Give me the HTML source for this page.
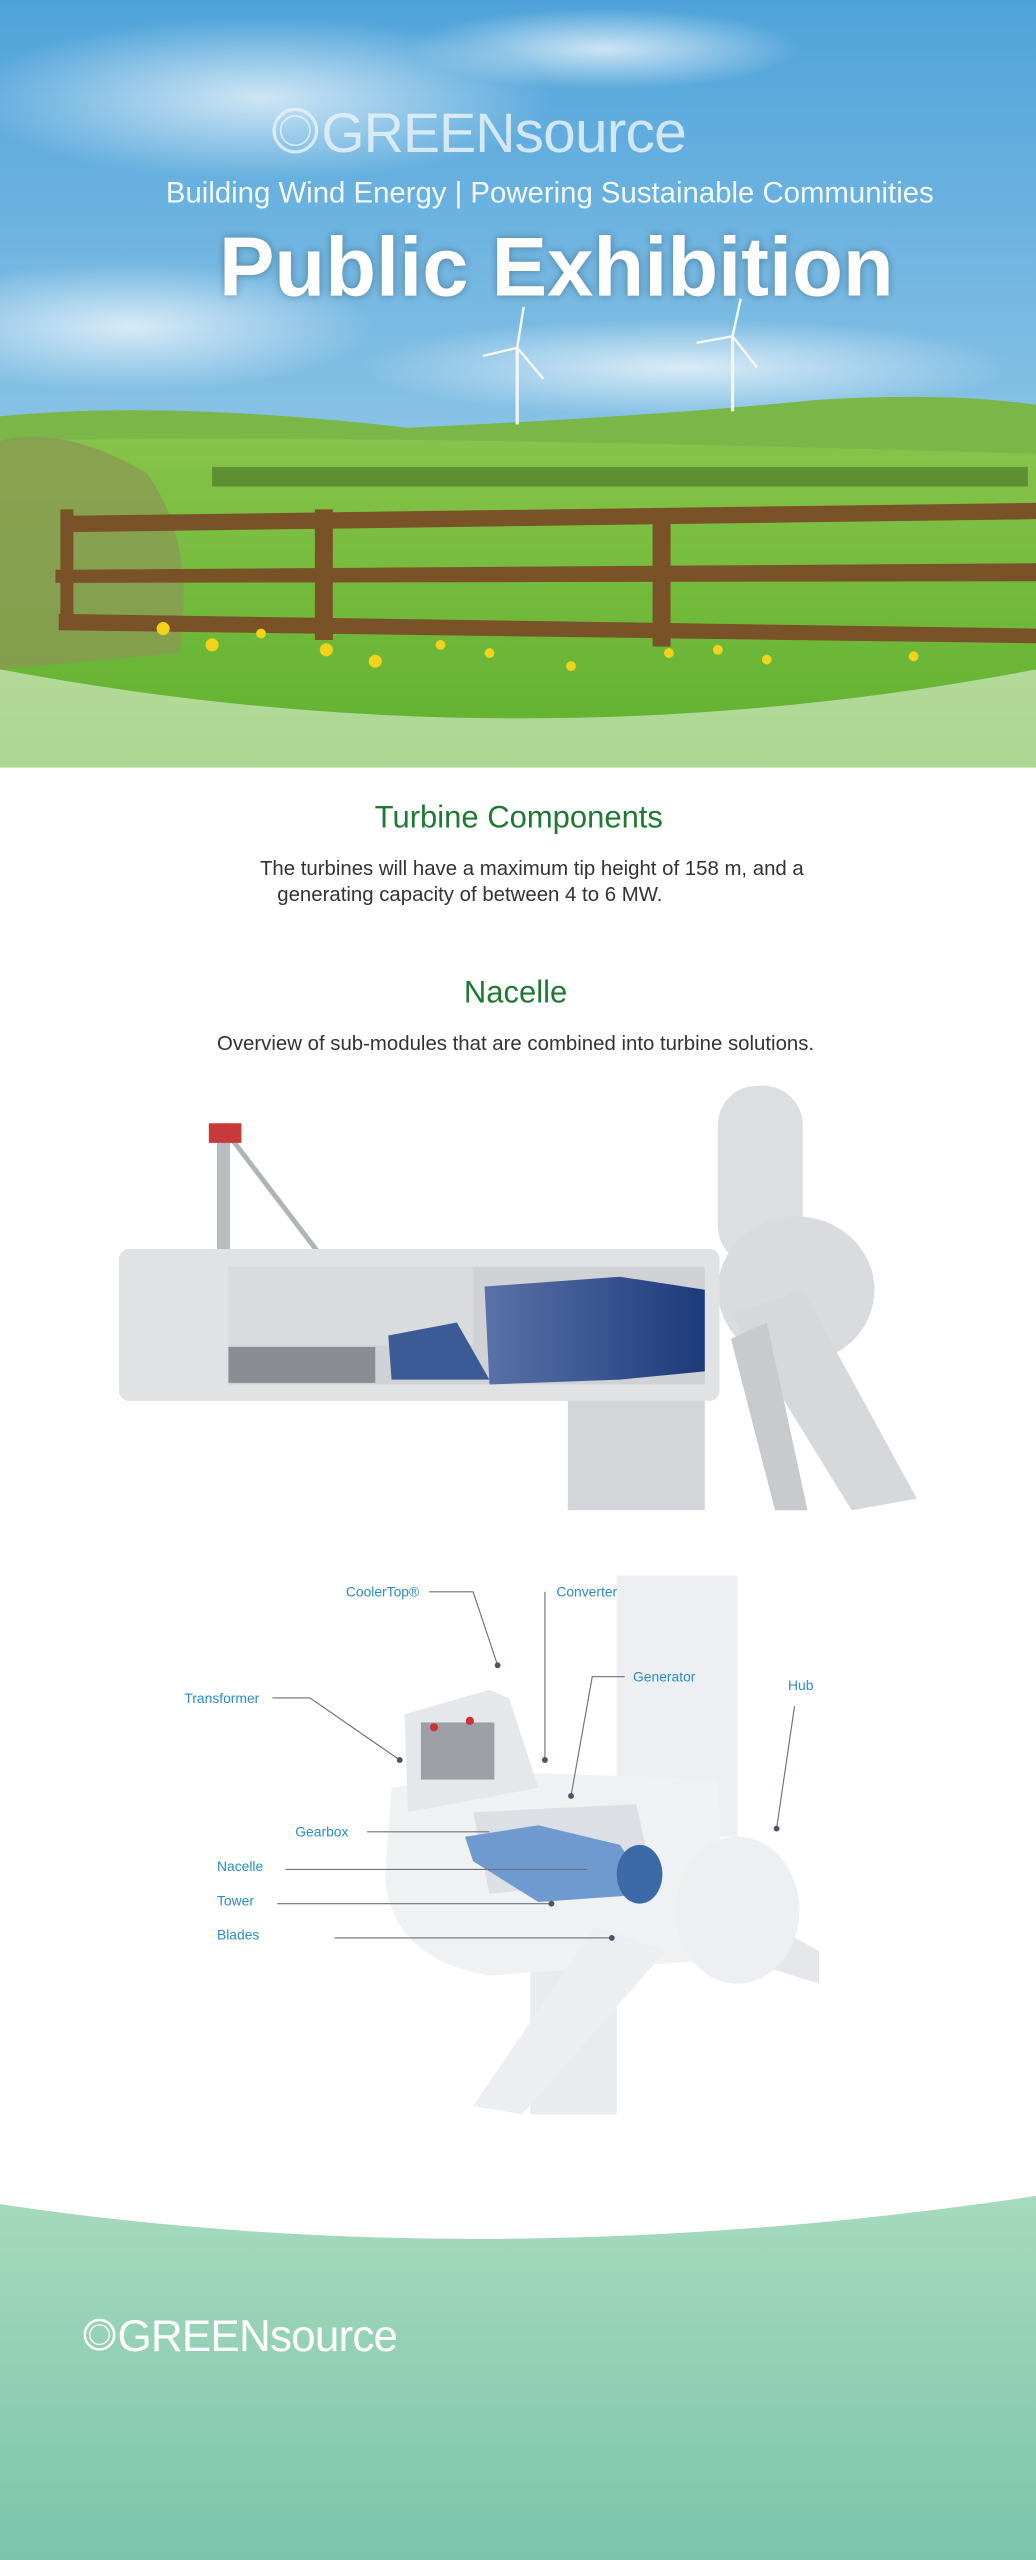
<!DOCTYPE html>
<html><head><meta charset="utf-8"><style>
html,body{margin:0;padding:0;background:#fff;}
svg{display:block;}
text{font-family:"Liberation Sans",sans-serif;}
</style></head><body>
<svg width="1036" height="2560" viewBox="0 0 635 1568" preserveAspectRatio="none" xmlns="http://www.w3.org/2000/svg">
<defs>
<linearGradient id="sky" x1="0" y1="0" x2="0" y2="1"><stop offset="0" stop-color="#4fa3da"/><stop offset="0.6" stop-color="#8cc4e6"/><stop offset="1" stop-color="#c9e2f0"/></linearGradient>
<linearGradient id="field" x1="0" y1="0" x2="0" y2="1"><stop offset="0" stop-color="#86c34a"/><stop offset="1" stop-color="#5fb02e"/></linearGradient>
<linearGradient id="foot" x1="0" y1="0" x2="0" y2="1"><stop offset="0" stop-color="#a6dabd"/><stop offset="1" stop-color="#7cc4ac"/></linearGradient>
<linearGradient id="blue" x1="0" y1="0" x2="1" y2="0"><stop offset="0" stop-color="#5a72a8"/><stop offset="1" stop-color="#1d3a7a"/></linearGradient>
<radialGradient id="cloud"><stop offset="0" stop-color="#fff" stop-opacity="0.7"/><stop offset="1" stop-color="#fff" stop-opacity="0"/></radialGradient>
</defs>
<!-- HERO -->
<rect x="0" y="0" width="635" height="470" fill="url(#sky)"/>
<ellipse cx="160" cy="60" rx="180" ry="50" fill="url(#cloud)"/>
<ellipse cx="370" cy="30" rx="120" ry="25" fill="url(#cloud)"/>
<ellipse cx="80" cy="200" rx="150" ry="40" fill="url(#cloud)"/>
<ellipse cx="420" cy="225" rx="200" ry="30" fill="url(#cloud)"/>
<path d="M0 255 Q100 245 250 262 Q400 255 500 245 Q580 240 635 248 L635 470 L0 470Z" fill="#7ab648"/>
<path d="M0 270 Q200 265 635 278 L635 470 L0 470Z" fill="url(#field)"/>
<rect x="130" y="286" width="500" height="12" fill="#4f7a2a" opacity="0.7"/>
<path d="M0 270 Q40 260 90 290 Q120 330 110 400 L0 410Z" fill="#8a9a52" opacity="0.8"/>
<!-- turbines -->
<g stroke="#f4f6f6" fill="none"><line x1="317" y1="213" x2="317" y2="260" stroke-width="2"/><line x1="317" y1="213" x2="321" y2="188" stroke-width="1.5"/><line x1="317" y1="213" x2="296" y2="218" stroke-width="1.5"/><line x1="317" y1="213" x2="333" y2="232" stroke-width="1.5"/>
<line x1="449" y1="206" x2="449" y2="252" stroke-width="2"/><line x1="449" y1="206" x2="454" y2="183" stroke-width="1.5"/><line x1="449" y1="206" x2="427" y2="210" stroke-width="1.5"/><line x1="449" y1="206" x2="464" y2="225" stroke-width="1.5"/></g>
<!-- fence -->
<g fill="#7a5228"><path d="M38 316 L635 308 L635 318 L38 326Z"/><path d="M34 349 L635 345 L635 356 L34 357Z"/><path d="M36 376 L635 385 L635 394 L36 386Z"/>
<rect x="193" y="312" width="11" height="80"/><rect x="400" y="312" width="11" height="84"/><rect x="37" y="312" width="8" height="70"/></g>
<g fill="#f2d21a"><circle cx="100" cy="385" r="4"/><circle cx="130" cy="395" r="4"/><circle cx="160" cy="388" r="3"/><circle cx="200" cy="398" r="4"/><circle cx="230" cy="405" r="4"/><circle cx="270" cy="395" r="3"/><circle cx="300" cy="400" r="3"/><circle cx="350" cy="408" r="3"/><circle cx="410" cy="400" r="3"/><circle cx="440" cy="398" r="3"/><circle cx="470" cy="404" r="3"/><circle cx="560" cy="402" r="3"/></g>
<path d="M0 410 Q320 470 635 410 L635 470 L0 470Z" fill="#eef6e8" opacity="0.55"/>
<!-- hero text -->
<circle cx="181" cy="80" r="13" fill="none" stroke="#e8f2f8" stroke-width="2" opacity="0.8"/>
<circle cx="181" cy="80" r="9" fill="none" stroke="#e8f2f8" stroke-width="1" opacity="0.8"/>
<text x="197" y="93" font-size="34" fill="#e6f1f8" opacity="0.85" letter-spacing="-0.5">GREEN<tspan font-weight="normal" font-size="36" style="font-weight:100">source</tspan></text>
<text x="337" y="124" font-size="18" fill="#f4f8fb" text-anchor="middle">Building Wind Energy | Powering Sustainable Communities</text>
<text x="341" y="181" font-size="51" font-weight="bold" fill="#ffffff" text-anchor="middle" style="text-shadow:0 0 8px rgba(0,0,0,0.3)">Public Exhibition</text>
<!-- section text -->
<text x="318" y="507" font-size="19" fill="#1e7a33" text-anchor="middle">Turbine Components</text>
<text x="326" y="536" font-size="12.5" fill="#333" text-anchor="middle">The turbines will have a maximum tip height of 158 m, and a</text>
<text x="288" y="552" font-size="12.5" fill="#333" text-anchor="middle">generating capacity of between 4 to 6 MW.</text>
<text x="316" y="614" font-size="19" fill="#1e7a33" text-anchor="middle">Nacelle</text>
<text x="316" y="643" font-size="12.5" fill="#333" text-anchor="middle">Overview of sub-modules that are combined into turbine solutions.</text>
<!-- NACELLE IMAGE 1 -->
<rect x="348" y="840" width="84" height="85" fill="#d3d5d8"/>
<rect x="440" y="665" width="52" height="110" rx="24" fill="#dcdee1"/>
<ellipse cx="488" cy="790" rx="48" ry="45" fill="#d9dbde"/>
<path d="M448 805 L492 790 L562 918 L522 925Z" fill="#d6d8db"/>
<path d="M448 820 L470 810 L495 925 L475 925Z" fill="#c8cacd"/>
<rect x="133" y="688" width="8" height="80" fill="#b9bcc1"/>
<line x1="140" y1="695" x2="195" y2="767" stroke="#b0b3b8" stroke-width="3"/>
<rect x="128" y="688" width="20" height="12" fill="#c83a3a"/>
<rect x="73" y="765" width="368" height="93" rx="6" fill="#e1e2e4"/>
<rect x="140" y="776" width="292" height="72" fill="#cfd1d5"/>
<rect x="140" y="776" width="150" height="48" fill="#dadbdf"/>
<rect x="140" y="825" width="90" height="22" fill="#8a8d94"/>
<path d="M238 818 L280 810 L300 845 L240 845Z" fill="#3c5a96"/>
<path d="M297 788 L380 782 L432 790 L432 840 L380 845 L300 848Z" fill="url(#blue)"/>
<!-- SECOND IMAGE -->
<rect x="325" y="1190" width="53" height="105" fill="#eaebee"/>
<rect x="378" y="965" width="74" height="160" fill="#eeeff2"/>
<path d="M475 1180 L502 1195 L502 1215 L470 1205Z" fill="#e6e7ea"/>
<path d="M240 1095 L300 1085 L440 1090 L445 1200 L300 1210 Q240 1200 236 1150Z" fill="#f0f1f3"/>
<path d="M248 1050 L300 1035 L312 1040 L330 1095 L250 1110Z" fill="#e6e7ea"/>
<rect x="258" y="1055" width="45" height="35" fill="#9c9fa6"/>
<ellipse cx="452" cy="1170" rx="38" ry="45" fill="#eeeff2"/>
<path d="M365 1180 L408 1195 L320 1295 L290 1290Z" fill="#edeef1"/>
<path d="M290 1110 L390 1105 L400 1150 L300 1160Z" fill="#dcdfe4"/>
<path d="M285 1125 L330 1118 L380 1130 L400 1160 L330 1165 L290 1140Z" fill="#6f9ad0"/>
<ellipse cx="392" cy="1148" rx="14" ry="18" fill="#3c6aa8"/>
<circle cx="288" cy="1054" r="2.5" fill="#c33"/><circle cx="266" cy="1058" r="2.5" fill="#c33"/>
<!-- labels -->
<g font-size="8.5" fill="#2a8cc8">
<text x="212" y="978">CoolerTop®</text><text x="341" y="978">Converter</text><text x="388" y="1030">Generator</text><text x="483" y="1035">Hub</text>
<text x="113" y="1043">Transformer</text><text x="181" y="1125">Gearbox</text><text x="133" y="1146">Nacelle</text><text x="133" y="1167">Tower</text><text x="133" y="1188">Blades</text></g>
<g stroke="#6a7280" stroke-width="0.7" fill="none">
<polyline points="263,975 290,975 305,1020"/><line x1="334" y1="975" x2="334" y2="1078"/><polyline points="383,1027 363,1027 350,1100"/><line x1="487" y1="1045" x2="476" y2="1120"/>
<polyline points="167,1040 190,1040 245,1078"/><line x1="225" y1="1122" x2="300" y2="1122"/><line x1="175" y1="1145" x2="360" y2="1145"/><line x1="170" y1="1166" x2="338" y2="1166"/><line x1="205" y1="1187" x2="375" y2="1187"/></g>
<g fill="#4a5566"><circle cx="305" cy="1020" r="1.8"/><circle cx="334" cy="1078" r="1.8"/><circle cx="350" cy="1100" r="1.8"/><circle cx="476" cy="1120" r="1.8"/><circle cx="245" cy="1078" r="1.8"/><circle cx="338" cy="1166" r="1.8"/><circle cx="375" cy="1187" r="1.8"/></g>
<!-- FOOTER -->
<path d="M0 1350 Q300 1395 635 1345 L635 1568 L0 1568Z" fill="url(#foot)"/>
<circle cx="61" cy="1430" r="9" fill="none" stroke="#fff" stroke-width="1.5"/>
<circle cx="61" cy="1430" r="6" fill="none" stroke="#fff" stroke-width="0.8"/>
<text x="72" y="1440" font-size="27" fill="#ffffff" letter-spacing="-0.5">GREEN<tspan style="font-weight:100">source</tspan></text>
</svg>
</body></html>
